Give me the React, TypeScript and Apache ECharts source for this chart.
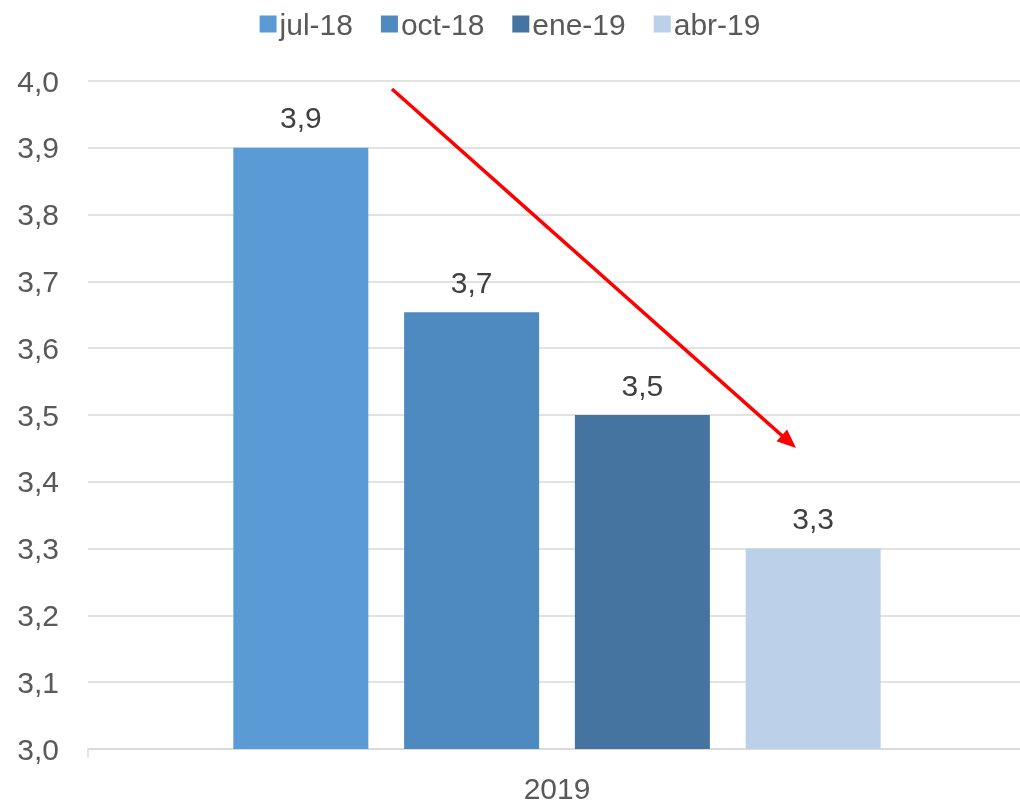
import React, { useEffect, useRef } from "react";
import * as echarts from "echarts";

const categories = ["2019"];
const seriesNames = ["jul-18", "oct-18", "ene-19", "abr-19"];
const seriesValues = [3.9, 3.654, 3.5, 3.3];
const seriesColors = ["#5B9BD5", "#4E8ABF", "#44749F", "#BDD0EA"];
const yTicks = { min: 3.0, max: 4.0, interval: 0.1 };

const FONT = "'Liberation Sans', Arial, sans-serif";

export default function App() {
  const ref = useRef<HTMLDivElement>(null);
  useEffect(() => {
    if (!ref.current) return;
    const chart = echarts.init(ref.current, undefined, { renderer: "svg" });
    const fmt = (v: number) => v.toFixed(1).replace(".", ",");
    // arrow annotation
    const sx = 392, sy = 89, tx = 796, ty = 448;
    const dx = tx - sx, dy = ty - sy;
    const len = Math.sqrt(dx * dx + dy * dy);
    const ux = dx / len, uy = dy / len;
    const headLen = 19, headHalf = 8;
    const bx = tx - ux * headLen, by = ty - uy * headLen;
    const px = -uy * headHalf, py = ux * headHalf;
    chart.setOption({
      animation: false,
      textStyle: { fontFamily: FONT },
      legend: {
        top: 4,
        left: "center",
        itemWidth: 17,
        itemHeight: 17,
        itemGap: 28,
        icon: "rect",
        textStyle: { fontSize: 30, color: "#595959", fontFamily: FONT, padding: [0, 0, 0, -2] },
        data: seriesNames,
      },
      grid: {
        left: 88,
        top: 81,
        width: 938,
        height: 668,
        containLabel: false,
        outerBoundsMode: "none",
      },
      xAxis: {
        type: "category",
        data: categories,
        axisLine: { lineStyle: { color: "#D9D9D9", width: 1.5 } },
        axisTick: { show: true, length: 8, lineStyle: { color: "#D9D9D9", width: 1.5 } },
        axisLabel: { fontSize: 30, color: "#595959", margin: 24, fontFamily: FONT },
      },
      yAxis: {
        type: "value",
        min: yTicks.min,
        max: yTicks.max,
        interval: yTicks.interval,
        axisLine: { show: false },
        axisTick: { show: false },
        splitLine: { lineStyle: { color: "#D9D9D9", width: 1.5 } },
        axisLabel: { fontSize: 30, color: "#595959", margin: 29, fontFamily: FONT, formatter: (v: number) => fmt(v) },
      },
      series: seriesNames.map((name, i) => ({
        name,
        type: "bar",
        data: [seriesValues[i]],
        barWidth: 135,
        barGap: "26.5%",
        itemStyle: { color: seriesColors[i] },
        label: {
          show: true,
          position: "top",
          distance: 15,
          fontSize: 30,
          color: "#404040",
          fontFamily: FONT,
          formatter: (p: any) => fmt(p.value),
        },
      })),
      graphic: [
        {
          type: "line",
          shape: { x1: sx, y1: sy, x2: bx + ux * 2, y2: by + uy * 2 },
          style: { stroke: "#FF0000", lineWidth: 3.5 },
          z: 100,
        },
        {
          type: "polygon",
          shape: { points: [[tx, ty], [bx + px, by + py], [bx - px, by - py]] },
          style: { fill: "#FF0000" },
          z: 100,
        },
      ],
    });
    return () => chart.dispose();
  }, []);
  return (
    <div
      ref={ref}
      style={{ position: "fixed", left: 0, top: 0, width: 1020, height: 803, overflow: "hidden" }}
    />
  );
}
